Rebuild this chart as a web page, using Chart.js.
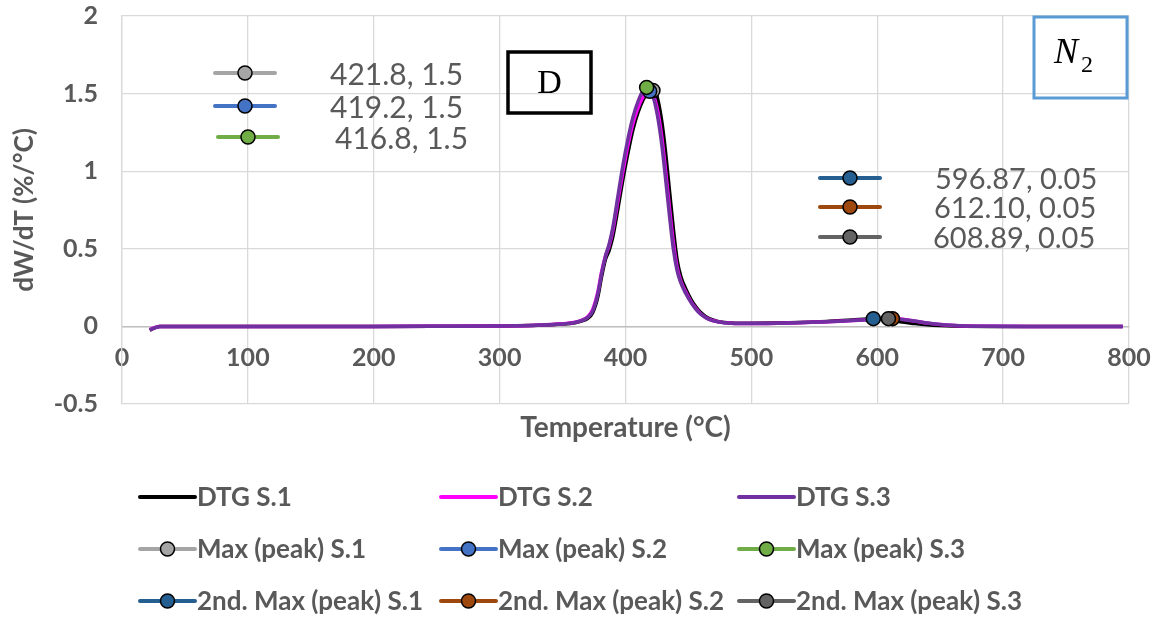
<!DOCTYPE html>
<html>
<head>
<meta charset="utf-8">
<title>DTG curves</title>
<script src="https://cdn.jsdelivr.net/npm/chart.js@4.4.1/dist/chart.umd.min.js"></script>
<style>
  html, body { margin: 0; padding: 0; background: #fff; }
  #wrap { width: 1153px; height: 618px; }
</style>
</head>
<body>
<div id="wrap"><canvas id="dtgChart" width="1153" height="618"></canvas></div>
<script>
// temperature grid (°C) shared by the three DTG runs
const temperature = [22, 26, 30, 50, 100, 150, 200, 250, 300, 330,
  350, 360, 365, 370, 374, 378, 381, 384, 387, 390,
  394, 398, 402, 406, 410, 414, 417, 420, 423, 426,
  429, 432, 435, 438, 441, 444, 448, 452, 456, 460,
  466, 474, 484, 500, 530, 560, 580, 597, 605, 612,
  620, 630, 640, 650, 660, 670, 690, 720, 760, 795];

// dW/dT (%/°C)
const dtgS1 = [-0.025, -0.01, 0, 0, 0, 0, 0, 0.001, 0.003, 0.007,
  0.015, 0.024, 0.034, 0.052, 0.09, 0.19, 0.32, 0.43, 0.49, 0.58,
  0.76, 0.95, 1.12, 1.27, 1.38, 1.46, 1.5, 1.525, 1.525, 1.45,
  1.31, 1.11, 0.87, 0.63, 0.43, 0.32, 0.24, 0.175, 0.125, 0.088,
  0.052, 0.031, 0.022, 0.02, 0.023, 0.032, 0.042, 0.05, 0.046, 0.039,
  0.029, 0.018, 0.01, 0.005, 0.002, 0.001, 0, 0, 0, 0];
const dtgS2 = [-0.02, -0.008, 0, 0, 0, 0, 0, 0.001, 0.003, 0.008,
  0.017, 0.027, 0.039, 0.062, 0.11, 0.22, 0.35, 0.45, 0.52, 0.62,
  0.81, 1.0, 1.17, 1.31, 1.41, 1.48, 1.515, 1.515, 1.47, 1.37,
  1.21, 0.99, 0.76, 0.54, 0.38, 0.29, 0.22, 0.16, 0.115, 0.08,
  0.047, 0.029, 0.021, 0.018, 0.022, 0.03, 0.038, 0.045, 0.049, 0.052,
  0.046, 0.034, 0.021, 0.012, 0.006, 0.003, 0.001, 0, 0, 0];
const dtgS3 = [-0.022, -0.009, 0, 0, 0, 0, 0, 0.001, 0.003, 0.008,
  0.016, 0.026, 0.037, 0.058, 0.1, 0.21, 0.34, 0.45, 0.53, 0.64,
  0.84, 1.04, 1.21, 1.35, 1.45, 1.52, 1.54, 1.52, 1.45, 1.33,
  1.16, 0.94, 0.71, 0.5, 0.36, 0.28, 0.21, 0.155, 0.11, 0.077,
  0.046, 0.028, 0.02, 0.018, 0.022, 0.03, 0.038, 0.045, 0.049, 0.05,
  0.045, 0.035, 0.022, 0.013, 0.007, 0.003, 0.001, 0, 0, 0];

// main and second maxima per sample
const sampleNames = ['S.1', 'S.2', 'S.3'];
const peakTemp = [421.8, 419.2, 416.8];
const peakRate = [1.52, 1.515, 1.54];
const peak2Temp = [596.87, 612.10, 608.89];
const peak2Rate = [0.05, 0.05, 0.05];

const xTicks = [0, 100, 200, 300, 400, 500, 600, 700, 800];
const yTicks = [-0.5, 0, 0.5, 1, 1.5, 2];

const GRAY_TEXT = '#595959';
const FONT = 'Lato, "Liberation Sans", sans-serif';

const dtgColors = ['#000000', '#ff00ff', '#7030a0'];
const peakColors = ['#a5a5a5', '#4472c4', '#70ad47'];
const peak2Colors = ['#255e91', '#9e480e', '#636363'];

function curve(values) {
  return temperature.map((t, i) => ({ x: t, y: values[i] }));
}

const datasets = [];
[dtgS1, dtgS2, dtgS3].forEach((vals, i) => {
  datasets.push({
    label: 'DTG ' + sampleNames[i],
    data: curve(vals),
    borderColor: dtgColors[i],
    backgroundColor: dtgColors[i],
    borderWidth: 3.5,
    pointRadius: 0,
    cubicInterpolationMode: 'monotone',
    showLine: true,
    isCurve: true
  });
});
sampleNames.forEach((s, i) => {
  datasets.push({
    label: 'Max (peak) ' + s,
    data: [{ x: peakTemp[i], y: peakRate[i] }],
    borderColor: peakColors[i],
    pointBackgroundColor: peakColors[i],
    pointBorderColor: '#000',
    pointBorderWidth: 1.5,
    pointRadius: 7,
    showLine: false,
    digits: 1
  });
});
sampleNames.forEach((s, i) => {
  datasets.push({
    label: '2nd. Max (peak) ' + s,
    data: [{ x: peak2Temp[i], y: peak2Rate[i] }],
    borderColor: peak2Colors[i],
    pointBackgroundColor: peak2Colors[i],
    pointBorderColor: '#000',
    pointBorderWidth: 1.5,
    pointRadius: 7,
    showLine: false,
    digits: 2
  });
});
// later series sit on top
datasets.forEach((d, i) => { d.order = datasets.length - i; });

// where the value callouts and legend entries go (px)
const calloutSlots = [
  { key: 215, text: 330, y: 73 },
  { key: 215, text: 330, y: 106 },
  { key: 218, text: 335, y: 137 },
  { key: 820, text: 935, y: 178 },
  { key: 820, text: 934, y: 207 },
  { key: 820, text: 933, y: 237 }
];
const legendCols = [140, 441, 739];
const legendRows = [497, 549, 601];

function drawKey(ctx, ds, x, y, len) {
  ctx.save();
  ctx.strokeStyle = ds.borderColor;
  ctx.lineWidth = 4;
  ctx.lineCap = 'round';
  ctx.beginPath();
  ctx.moveTo(x, y);
  ctx.lineTo(x + len, y);
  ctx.stroke();
  if (!ds.isCurve) {
    ctx.beginPath();
    ctx.arc(x + len / 2, y, 7, 0, Math.PI * 2);
    ctx.fillStyle = ds.pointBackgroundColor;
    ctx.fill();
    ctx.lineWidth = 1.5;
    ctx.strokeStyle = '#000';
    ctx.stroke();
  }
  ctx.restore();
}

const decorations = {
  id: 'decorations',
  beforeDraw(chart) {
    const ctx = chart.ctx;
    ctx.save();
    ctx.fillStyle = '#fff';
    ctx.fillRect(0, 0, chart.width, chart.height);
    ctx.restore();
  },
  afterDraw(chart) {
    const ctx = chart.ctx;
    const area = chart.chartArea;
    const sets = chart.data.datasets;
    ctx.save();

    // axis titles
    ctx.fillStyle = GRAY_TEXT;
    ctx.font = 'bold 28px ' + FONT;
    ctx.textAlign = 'center';
    ctx.textBaseline = 'middle';
    ctx.fillText('Temperature (°C)', (area.left + area.right) / 2, 428);
    ctx.save();
    ctx.translate(25, (area.top + area.bottom) / 2);
    ctx.rotate(-Math.PI / 2);
    ctx.font = 'bold 26px ' + FONT;
    ctx.fillText('dW/dT (%/°C)', 0, 0);
    ctx.restore();

    // value callouts with their keys
    ctx.textAlign = 'left';
    sets.slice(3).forEach((ds, i) => {
      const slot = calloutSlots[i];
      const p = ds.data[0];
      drawKey(ctx, ds, slot.key, slot.y, 60);
      ctx.fillStyle = GRAY_TEXT;
      ctx.font = (ds.digits === 1 ? '30px ' : '29px ') + FONT;
      ctx.fillText(p.x.toFixed(ds.digits) + ', ' + p.y.toFixed(ds.digits), slot.text, slot.y + 2);
    });

    // legend, three columns
    ctx.font = 'bold 26px ' + FONT;
    sets.forEach((ds, i) => {
      const x = legendCols[i % 3];
      const y = legendRows[Math.floor(i / 3)];
      drawKey(ctx, ds, x, y, 55);
      ctx.fillStyle = GRAY_TEXT;
      ctx.fillText(ds.label, x + 57, y + 1);
    });

    // panel letter
    ctx.lineWidth = 3.5;
    ctx.strokeStyle = '#000';
    ctx.strokeRect(508, 52, 83, 61);
    ctx.fillStyle = '#000';
    ctx.textAlign = 'center';
    ctx.font = '34px "Liberation Serif", serif';
    ctx.fillText('D', 549.5, 84);

    // atmosphere tag
    ctx.lineWidth = 3;
    ctx.strokeStyle = '#5b9bd5';
    ctx.strokeRect(1034, 17, 93, 81);
    ctx.textAlign = 'left';
    ctx.textBaseline = 'alphabetic';
    ctx.font = 'italic 36px "Liberation Serif", serif';
    ctx.fillText('N', 1054, 63);
    ctx.font = '24px "Liberation Serif", serif';
    ctx.fillText('2', 1081, 72);

    ctx.restore();
  }
};

const tickFont = { family: FONT, size: 25, weight: 'bold' };

new Chart(document.getElementById('dtgChart'), {
  type: 'scatter',
  data: { datasets },
  options: {
    responsive: false,
    animation: false,
    layout: { padding: { top: 16, right: 24, bottom: 214, left: 0 } },
    plugins: { legend: { display: false }, tooltip: { enabled: false } },
    scales: {
      x: {
        type: 'linear',
        min: 0,
        max: 800,
        position: { y: 0 },
        afterBuildTicks: s => { s.ticks = xTicks.map(v => ({ value: v })); },
        afterFit: s => { s.paddingLeft = 0; s.paddingRight = 0; },
        grid: { color: '#d9d9d9', lineWidth: 1.3, drawTicks: false },
        border: { color: '#bfbfbf', width: 1.5 },
        ticks: { padding: 17, color: GRAY_TEXT, font: tickFont, autoSkip: false, maxRotation: 0, callback: v => String(v) }
      },
      y: {
        type: 'linear',
        min: -0.5,
        max: 2,
        afterBuildTicks: s => { s.ticks = yTicks.map(v => ({ value: v })); },
        afterFit: s => { s.width = 122; s.paddingTop = 0; s.paddingBottom = 0; },
        grid: { color: '#d9d9d9', lineWidth: 1.3, drawTicks: false },
        border: { color: '#d9d9d9', width: 1.3 },
        ticks: { padding: 24, color: GRAY_TEXT, font: tickFont, callback: v => String(v) }
      }
    }
  },
  plugins: [decorations]
});
</script>
</body>
</html>
